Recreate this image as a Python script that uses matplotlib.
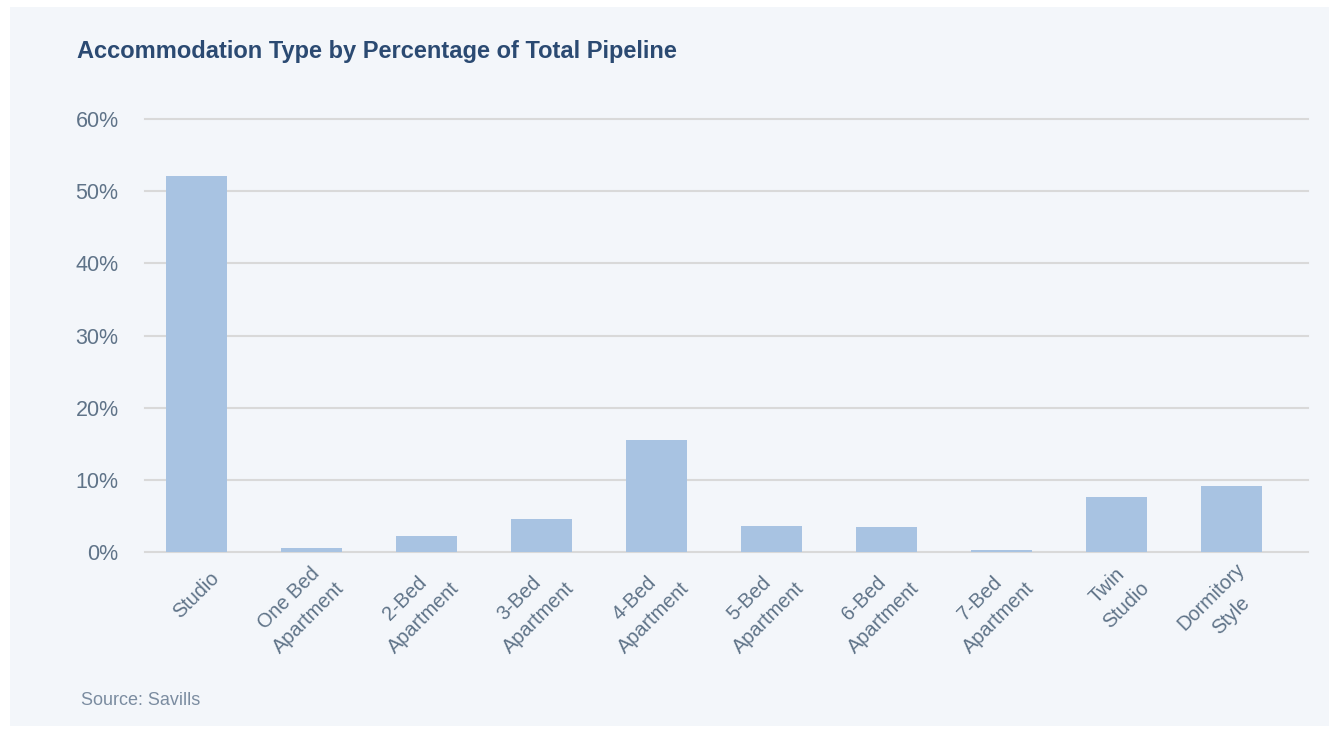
import numpy as np
import matplotlib
matplotlib.use('Agg')
import matplotlib.pyplot as plt
import matplotlib.transforms as mtransforms
from matplotlib.patches import Rectangle

# data
categories = ['Studio', 'One Bed\nApartment', '2-Bed\nApartment', '3-Bed\nApartment',
              '4-Bed\nApartment', '5-Bed\nApartment', '6-Bed\nApartment',
              '7-Bed\nApartment', 'Twin\nStudio', 'Dormitory\nStyle']
share_pct = [52.1, 0.6, 2.2, 4.6, 15.5, 3.6, 3.5, 0.3, 7.6, 9.1]
y_ticks = [0, 10, 20, 30, 40, 50, 60]
y_tick_labels = ['0%', '10%', '20%', '30%', '40%', '50%', '60%']

PANEL = '#f3f6fa'
BAR = '#a8c3e2'
GRID = '#d9d9d9'
TITLE_C = '#2b4a72'
TICK_C = '#5f7388'
SRC_C = '#7b8ca0'
FONT = 'Liberation Sans'

W, H = 1340, 733
fig = plt.figure(figsize=(W / 100, H / 100), dpi=100)
fig.patch.set_facecolor('white')
fig.patches.append(Rectangle((10 / W, 7 / H), 1319 / W, 719 / H,
                             transform=fig.transFigure, facecolor=PANEL,
                             edgecolor='none', zorder=-10))

ax = fig.add_axes([145 / W, (H - 552) / H, (1308 - 145) / W, (552 - 119) / H])
ax.set_facecolor('none')

x = np.arange(len(categories))
ax.bar(x, share_pct, width=0.53, color=BAR, zorder=2)

ax.set_xlim(-0.448, len(categories) - 1 + 0.665)
ax.set_ylim(0, 60)
ax.set_yticks(y_ticks)
ax.set_yticklabels(y_tick_labels, fontsize=15.5, color=TICK_C, family=FONT)
ax.yaxis.grid(True, color=GRID, linewidth=1.5)
ax.set_axisbelow(True)
for gl in ax.get_ygridlines():
    gl.set_clip_on(False)
ax.tick_params(axis='y', length=0, pad=19)
ax.tick_params(axis='x', length=0, pad=17)

ax.set_xticks(x)
ax.set_xticklabels(categories, rotation=45, ha='right', va='center',
                   rotation_mode='anchor', multialignment='center',
                   fontsize=14.3, color=TICK_C, family=FONT, linespacing=1.55)
offset = mtransforms.ScaledTranslation(20 / 100, 0, fig.dpi_scale_trans)
for lbl in ax.get_xticklabels():
    lbl.set_transform(lbl.get_transform() + offset)

for s in ax.spines.values():
    s.set_visible(False)

fig.text(77 / W, (H - 58) / H, 'Accommodation Type by Percentage of Total Pipeline',
         fontsize=17, fontweight='bold', color=TITLE_C, family=FONT, va='baseline')
fig.text(81 / W, (H - 705) / H, 'Source: Savills', fontsize=13, color=SRC_C,
         family=FONT, va='baseline')

fig.savefig('out.png', dpi=100, facecolor=fig.get_facecolor())
